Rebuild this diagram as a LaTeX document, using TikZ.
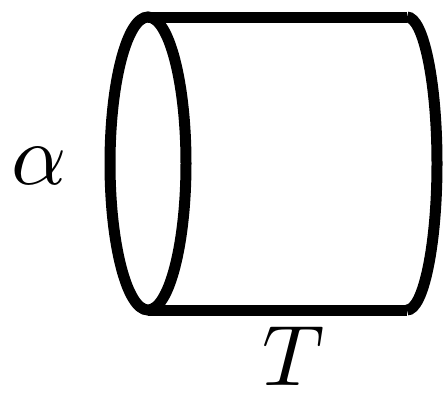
\documentclass[tikz,border=0pt]{standalone}
\usepackage{amsmath}
\usetikzlibrary{positioning, calc}

\begin{document}
\begin{tikzpicture}[
    x=1pt, y=-1pt,
    rim/.style   = {line width=11pt},
    label/.style = {scale=8.6, transform shape, inner sep=0pt}
]
\useasboundingbox (0,0) rectangle (447,392);

% Body of the cylinder
\coordinate (L)  at (148,163.5);
\coordinate (TL) at (148,17);
\coordinate (BL) at (148,310);
\coordinate (TR) at (407,17);
\coordinate (BR) at (407,310);

% Front rim and back half rim
\draw[rim] (L) ellipse [x radius=38pt, y radius=146.5pt];
\draw[rim] (TR) arc [start angle=90, end angle=-90, x radius=30pt, y radius=146.5pt];

% Sides
\draw[rim] (TL) -- (TR);
\draw[rim] (BL) -- (BR);

% Labels
\node[label] (alpha) at (39,166)  {$\alpha$};
\node[label] (time)  at (294,356) {$T$};

\end{tikzpicture}
\end{document}
